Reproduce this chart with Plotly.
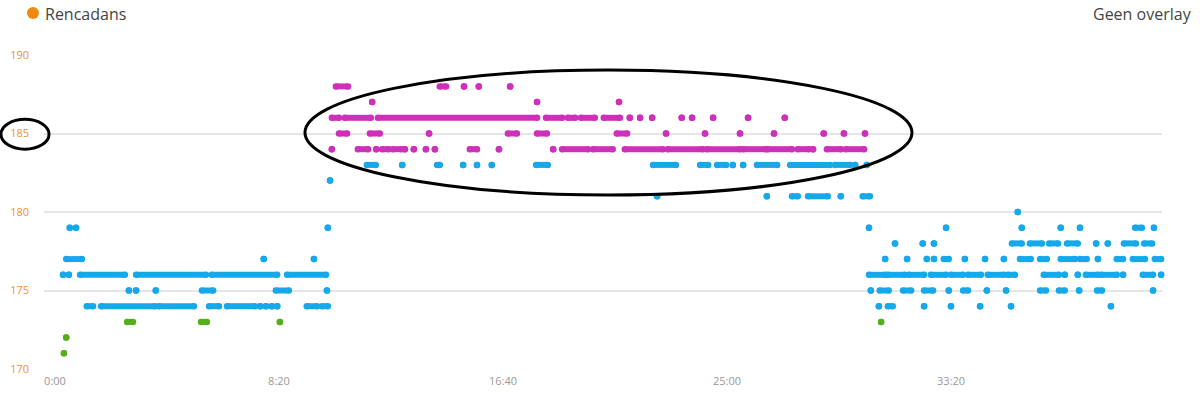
import plotly.graph_objects as go

# Heart-rate samples: for each bpm level, time runs (start_s, end_s) where the value was recorded
hr188 = [(627, 654), (859, 873), (913, 913), (946, 946), (1016, 1016)]
hr187 = [(708, 708), (1076, 1076), (1259, 1259)]
hr186 = [(618, 634), (647, 705), (721, 1076), (1096, 1132), (1145, 1161), (1174, 1205),
         (1225, 1261), (1283, 1283), (1306, 1306), (1333, 1333), (1399, 1399), (1422, 1422),
         (1469, 1469), (1547, 1547), (1629, 1629)]
hr185 = [(634, 652), (703, 725), (835, 835), (1011, 1031), (1076, 1098), (1254, 1277),
         (1364, 1364), (1451, 1451), (1529, 1529), (1605, 1605), (1716, 1716), (1761, 1761),
         (1808, 1808)]
hr184 = [(618, 618), (676, 699), (717, 717), (730, 745), (754, 774), (781, 781), (801, 801),
         (828, 828), (848, 848), (926, 942), (991, 991), (1112, 1112), (1132, 1190),
         (1201, 1245), (1272, 1357), (1368, 1446), (1455, 1529), (1536, 1587), (1591, 1645),
         (1658, 1683), (1692, 1692), (1723, 1754), (1765, 1806)]
hr183 = [(696, 716), (775, 775), (853, 859), (911, 911), (942, 942), (975, 975), (1074, 1100),
         (1335, 1386), (1440, 1458), (1478, 1498), (1513, 1513), (1536, 1536), (1567, 1612),
         (1641, 1730), (1741, 1775), (1786, 1786), (1812, 1812)]
hr182 = [(614, 614)]
hr181 = [(1344, 1344), (1589, 1589), (1645, 1658), (1681, 1725), (1754, 1754), (1803, 1819)]
hr180 = [(2149, 2149)]
hr179 = [(33, 33), (47, 47), (609, 609), (1817, 1817), (1989, 1989), (2158, 2158),
         (2245, 2245), (2288, 2288), (2411, 2426), (2453, 2453)]
hr178 = [(1875, 1875), (1937, 1937), (1962, 1962), (2136, 2158), (2176, 2203), (2219, 2239),
         (2259, 2283), (2324, 2324), (2350, 2350), (2386, 2413), (2431, 2449)]
hr177 = [(25, 60), (466, 466), (578, 578), (1853, 1853), (1902, 1902), (1946, 1946),
         (1962, 1962), (1984, 1995), (2031, 2031), (2076, 2076), (2118, 2118), (2154, 2178),
         (2199, 2214), (2245, 2277), (2288, 2303), (2328, 2328), (2370, 2384), (2406, 2433),
         (2455, 2469)]
hr176 = [(18, 18), (31, 31), (56, 156), (181, 337), (350, 496), (518, 605), (1817, 1853),
         (1859, 1897), (1906, 1940), (1955, 1989), (2000, 2027), (2038, 2067), (2082, 2118),
         (2127, 2143), (2207, 2241), (2254, 2254), (2283, 2283), (2301, 2328), (2335, 2370),
         (2384, 2384), (2428, 2451), (2469, 2469)]
hr175 = [(165, 165), (181, 181), (225, 225), (328, 353), (493, 522), (607, 607), (1821, 1821),
         (1841, 1861), (1893, 1911), (1940, 1960), (1995, 1995), (2027, 2038), (2080, 2080),
         (2123, 2123), (2199, 2212), (2241, 2254), (2286, 2286), (2326, 2337), (2451, 2451)]
hr174 = [(71, 85), (103, 223), (232, 310), (344, 366), (384, 446), (458, 458), (471, 471),
         (484, 484), (496, 496), (562, 585), (596, 609), (1839, 1839), (1859, 1870),
         (1940, 1940), (2000, 2000), (2065, 2065), (2134, 2134), (2357, 2357)]
hr173 = [(161, 174), (326, 339), (502, 502), (1844, 1844)]
hr172 = [(25, 25)]
hr171 = [(20, 20)]

levels = {188: hr188, 187: hr187, 186: hr186, 185: hr185, 184: hr184, 183: hr183,
          182: hr182, 181: hr181, 180: hr180, 179: hr179, 178: hr178, 177: hr177,
          176: hr176, 175: hr175, 174: hr174, 173: hr173, 172: hr172, 171: hr171}

tick_vals = [0, 500, 1000, 1500, 2000]
tick_text = ["0:00", "8:20", "16:40", "25:00", "33:20"]

BLUE = "#17a8ea"
MAGENTA = "#cf2fba"
GREEN = "#55ae1b"


def zone_color(v):
    if v >= 184:
        return MAGENTA
    if v >= 174:
        return BLUE
    return GREEN


groups = {BLUE: ([], []), MAGENTA: ([], []), GREEN: ([], [])}
for v, runs in levels.items():
    xs, ys = groups[zone_color(v)]
    for s, e in runs:
        xs += [s, e, None]
        ys += [v, v, None]

fig = go.Figure()
for col, (xs, ys) in groups.items():
    fig.add_trace(go.Scatter(
        x=xs, y=ys, mode="lines+markers",
        line=dict(color=col, width=6),
        marker=dict(color=col, size=6.5, line=dict(width=0)),
        cliponaxis=False, showlegend=False, hoverinfo="skip",
    ))

# Highlight ellipses
fig.add_shape(type="circle", xref="x", yref="y", x0=558, x1=1913, y0=181.08, y1=189.04,
              line=dict(color="black", width=3))
fig.add_shape(type="circle", xref="paper", yref="paper", x0=-0.0385, x1=0.0045,
              y0=0.700, y1=0.795, line=dict(color="black", width=3))

# Legend marker and labels
fig.add_shape(type="circle", xref="paper", yref="paper", x0=-0.0152, x1=-0.0045,
              y0=1.1146, y1=1.1529, fillcolor="#f08a0e", line=dict(width=0))
fig.add_annotation(xref="paper", yref="paper", x=-0.001, y=1.131, xanchor="left",
                   yanchor="middle", text="Rencadans", showarrow=False,
                   font=dict(family="Open Sans", size=16, color="#444444"))
fig.add_annotation(xref="paper", yref="paper", x=1.0286, y=1.131, xanchor="right",
                   yanchor="middle", text="Geen overlay", showarrow=False,
                   font=dict(family="Open Sans", size=16, color="#444444"))

fig.update_layout(
    width=1200, height=400,
    margin=dict(l=44, r=38, t=55, b=31, autoexpand=False),
    paper_bgcolor="white", plot_bgcolor="white",
    font=dict(family="Open Sans"),
    hovermode=False,
    xaxis=dict(range=[-24.5, 2471], tickvals=tick_vals, ticktext=tick_text,
               showgrid=False, zeroline=False, showline=False, ticks="",
               automargin=False,
               tickfont=dict(size=11, color="#999999"), ticklabelstandoff=4),
    yaxis=dict(range=[170, 190], tickvals=[170, 175, 180, 185, 190],
               showgrid=True, gridcolor="#e6e6e6", gridwidth=1.5, zeroline=False,
               showline=False, ticks="", automargin=False,
               tickfont=dict(size=11, color="#f0922b"),
               ticklabelstandoff=14),
)

# Remove the default page margin so the 1200x400 figure fills the window exactly
fig.write_html("out.html", config={"displayModeBar": False},
               post_script="document.body.style.margin='0';")
